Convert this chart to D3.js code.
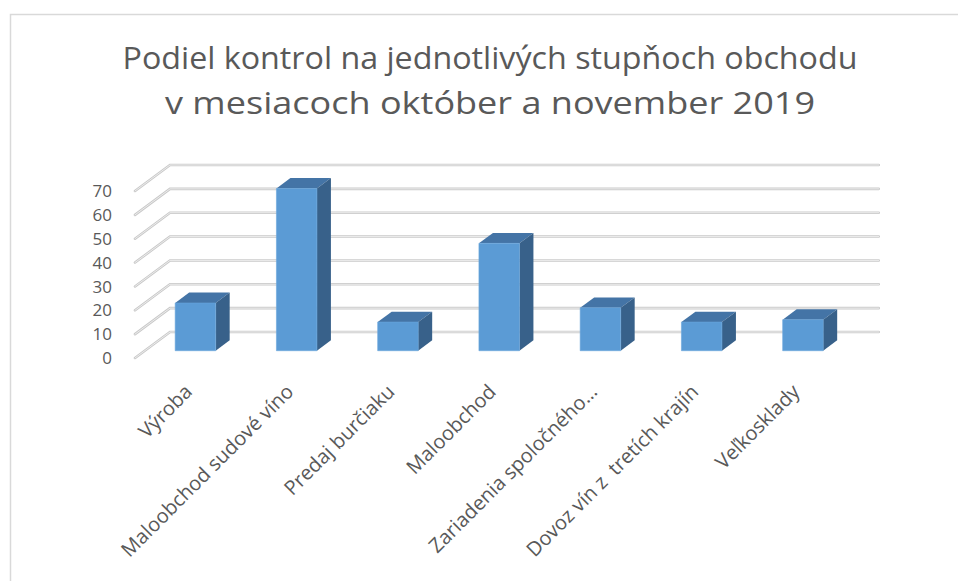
<!DOCTYPE html>
<html>
<head>
<meta charset="utf-8">
<script src="https://cdnjs.cloudflare.com/ajax/libs/d3/7.8.5/d3.min.js"></script>
<style>
  html, body { margin: 0; padding: 0; background: #fff; }
  svg { display: block; }
  text { font-family: "Open Sans", "DejaVu Sans", sans-serif; fill: #595959; }
</style>
</head>
<body>
<svg id="chart" width="958" height="581"></svg>
<script>
/*
 * Chart data
 */
var titleLines = ['Podiel kontrol na jednotlivých stupňoch obchodu',
                  'v mesiacoch október a november 2019'];
var titleWidths = [735, 650];

var categories = ['Výroba',
                  'Maloobchod sudové víno',
                  'Predaj burčiaku',
                  'Maloobchod',
                  'Zariadenia spoločného…',
                  'Dovoz vín z  tretích krajín',
                  'Veľkosklady'];

var values = [20, 68, 12, 45, 18, 12, 13];

var yTicks = [0, 10, 20, 30, 40, 50, 60, 70];

/*
 * Style / layout variables
 */
var FRONT_LEFT = 135,
    FRONT_RIGHT = 843.75,
    FRONT_BOTTOM = 358,
    FRONT_TOP = 191,
    DEPTH_X = 35,
    DEPTH_Y = -26,
    BAR_D0 = 0.28,
    BAR_D1 = 0.68,
    COL_FRONT = '#5b9bd5',
    COL_TOP = '#4474a6',
    COL_SIDE = '#38618a';

var svg = d3.select('#chart');

// chart border (cropped at right / bottom)
svg.append('rect')
    .attr('x', 10.5)
    .attr('y', 14.5)
    .attr('width', 1000)
    .attr('height', 1000)
    .attr('fill', 'none')
    .attr('stroke', '#d9d9d9')
    .attr('stroke-width', 1.5);

/*
 * Title (narrow face in the original, so squeeze to its width)
 */
svg.append('g').selectAll('text')
    .data(titleLines)
    .enter()
    .append('text')
    .attr('x', 490)
    .attr('y', function (d, i) { return 69 + i * 45; })
    .attr('text-anchor', 'middle')
    .attr('textLength', function (d, i) { return titleWidths[i]; })
    .attr('lengthAdjust', 'spacingAndGlyphs')
    .style('font-size', '31px')
    .text(function (d) { return d; });

/*
 * Scales
 */
var x = d3.scaleBand()
    .domain(categories)
    .range([FRONT_LEFT, FRONT_RIGHT])
    .paddingInner(0.6)
    .paddingOuter(0.3);

var y = d3.scaleLinear()
    .domain([0, 70])
    .range([FRONT_BOTTOM, FRONT_TOP]);

// project a point (px, value, depth) onto the screen
function proj(px, v, d) {
    return [px + d * DEPTH_X, y(v) + d * DEPTH_Y];
}

/*
 * Gridlines: left wall diagonals and back wall horizontals
 */
var grid = svg.append('g');
var gridLine = d3.line();
yTicks.forEach(function (v) {
    var pts = [proj(FRONT_LEFT, v, 0), proj(FRONT_LEFT, v, 1), proj(FRONT_RIGHT, v, 1)];
    grid.append('path')
        .attr('d', gridLine(pts))
        .attr('fill', 'none')
        .attr('stroke', '#c9c9c9')
        .attr('stroke-width', 2.6)
        .attr('stroke-linecap', 'round');
    grid.append('path')
        .attr('d', gridLine(pts))
        .attr('fill', 'none')
        .attr('stroke', '#ececec')
        .attr('stroke-width', 1)
        .attr('stroke-linecap', 'round');
});

/*
 * Y labels
 */
svg.append('g').selectAll('text')
    .data(yTicks)
    .enter()
    .append('text')
    .attr('x', 112)
    .attr('y', function (d) { return y(d); })
    .attr('dy', '0.36em')
    .attr('text-anchor', 'end')
    .style('font-size', '17px')
    .text(function (d) { return d; });

/*
 * Bars
 */
var poly = function (pts) { return 'M' + pts.map(function (p) { return p.join(','); }).join('L') + 'Z'; };
var bars = svg.append('g').selectAll('g')
    .data(categories)
    .enter()
    .append('g');

bars.each(function (c, i) {
    var g = d3.select(this),
        x0 = x(c),
        x1 = x(c) + x.bandwidth(),
        v = values[i];
    // top face
    g.append('path')
        .attr('d', poly([proj(x0, v, BAR_D0), proj(x1, v, BAR_D0), proj(x1, v, BAR_D1), proj(x0, v, BAR_D1)]))
        .attr('fill', COL_TOP);
    // side face
    g.append('path')
        .attr('d', poly([proj(x1, 0, BAR_D0), proj(x1, v, BAR_D0), proj(x1, v, BAR_D1), proj(x1, 0, BAR_D1)]))
        .attr('fill', COL_SIDE);
    // front face
    g.append('path')
        .attr('d', poly([proj(x0, 0, BAR_D0), proj(x1, 0, BAR_D0), proj(x1, v, BAR_D0), proj(x0, v, BAR_D0)]))
        .attr('fill', COL_FRONT)
        .attr('stroke', '#6aa6dc')
        .attr('stroke-width', 0.6);
});

/*
 * Category labels, rotated
 */
svg.append('g').selectAll('text')
    .data(categories)
    .enter()
    .append('text')
    .attr('transform', function (d) {
        var p = proj(x(d) + x.bandwidth() / 2, 0, BAR_D0);
        return 'translate(' + (p[0] - 2) + ',' + 393 + ') rotate(-45)';
    })
    .attr('text-anchor', 'end')
    .style('font-size', '20px')
    .style('white-space', 'pre')
    .text(function (d) { return d; });
</script>
</body>
</html>
